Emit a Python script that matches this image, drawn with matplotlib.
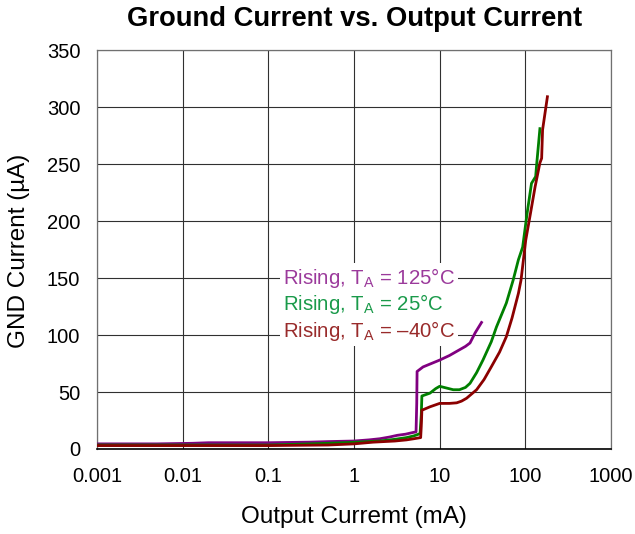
import matplotlib
matplotlib.use("Agg")
import matplotlib.pyplot as plt

plt.rcParams['font.family'] = ['Liberation Sans', 'DejaVu Sans']
plt.rcParams['mathtext.fontset'] = 'custom'
plt.rcParams['mathtext.rm'] = 'Liberation Sans'
plt.rcParams['mathtext.it'] = 'Liberation Sans:italic'
plt.rcParams['mathtext.bf'] = 'Liberation Sans:bold'

# ---- data ----
x_125 = [0.001, 0.005, 0.013, 0.02, 0.1, 0.3, 0.5, 1, 1.5, 2, 2.6, 3.2, 4, 4.9, 5.3, 5.4, 5.45,
         6.4, 8, 10, 13, 17, 20, 22.6, 26, 30.8]
y_125 = [4.5, 4.5, 5, 5.5, 5.5, 6, 6.5, 7, 8, 9, 10.5, 12, 13, 14.5, 15, 40, 68,
         72, 75, 78, 82, 87, 90, 93, 102, 111]

x_25 = [0.001, 0.01, 0.1, 0.18, 0.5, 1.07, 2, 3, 4.1, 5, 5.9, 6.1, 6.2, 7.7, 9, 10, 12, 14.4,
        17, 20, 22.6, 27, 32, 40, 46, 60, 72, 83, 93, 105, 118, 132, 135, 148]
y_25 = [3.5, 3.5, 3.5, 4, 5, 6, 7, 8.5, 10, 11.5, 13.5, 30, 46.5, 49, 53, 55, 53.5, 52,
        52, 54, 57.6, 67, 78, 94, 107, 128, 148, 166, 177, 207, 233, 239, 248, 281]

x_m40 = [0.001, 0.01, 0.1, 0.5, 1, 1.67, 3, 4.1, 5, 6, 6.1, 6.2, 7.7, 10, 13, 15.8, 18, 20.6,
         27, 33, 40, 50, 60, 70, 83, 89, 101, 115, 130, 148, 155, 159, 181]
y_m40 = [3, 3, 3, 3.5, 4.5, 6, 7, 8, 9, 10, 20, 34, 37, 40, 40, 40.5, 42, 44.5,
         52, 61, 72, 85, 98.5, 115, 136.5, 148, 183, 207, 230, 251, 255, 280, 309]

x_ticks = [0.001, 0.01, 0.1, 1, 10, 100, 1000]
x_ticklabels = ['0.001', '0.01', '0.1', '1', '10', '100', '1000']
y_ticks = [0, 50, 100, 150, 200, 250, 300, 350]

labels = ['Rising, T$_{\\mathrm{A}}$ = 125°C',
          'Rising, T$_{\\mathrm{A}}$ = 25°C',
          'Rising, T$_{\\mathrm{A}}$ = –40°C']

# ---- figure ----
fig = plt.figure(figsize=(6.35, 5.34), dpi=100)
ax = fig.add_axes([97/635, 1-449/534, (611-97)/635, (449-50)/534])

ax.plot(x_125, y_125, color='#800080', lw=2.0, zorder=3, solid_joinstyle='round')
ax.plot(x_25, y_25, color='#008000', lw=2.0, zorder=3, solid_joinstyle='round')
ax.plot(x_m40, y_m40, color='#8B0000', lw=2.0, zorder=3, solid_joinstyle='round')

ax.set_xscale('log')
ax.set_xlim(0.001, 1000)
ax.set_ylim(0, 350)
ax.set_xticks(x_ticks)
ax.set_xticklabels(x_ticklabels)
ax.minorticks_off()
ax.set_yticks(y_ticks)
ax.tick_params(axis='both', length=0, labelsize=14.5)
ax.tick_params(axis='x', pad=13)
ax.tick_params(axis='y', pad=12)

ax.grid(True, which='major', color='#303030', lw=0.8, zorder=0)
ax.set_axisbelow(True)
for s in ['top', 'right', 'left']:
    ax.spines[s].set_color('#707070')
    ax.spines[s].set_linewidth(0.9)
ax.spines['bottom'].set_color('black')
ax.spines['bottom'].set_linewidth(1.2)

text_colors = ['#9B3A9B', '#1A9A4A', '#992B2B']
text_y = [0.4123, 0.3496, 0.2807]
for lab, c, ty in zip(labels, text_colors, text_y):
    ax.text(0.362, ty, lab, transform=ax.transAxes, color=c, fontsize=14.7,
            ha='left', va='baseline', zorder=4,
            bbox=dict(facecolor='white', edgecolor='none', pad=2.5))

fig.text(355/635, 1-19/534, 'Ground Current vs. Output Current', ha='center', va='center',
         fontsize=19.7, fontweight='bold')
fig.text(354/635, 1-517/534, 'Output Curremt (mA)', ha='center', va='center', fontsize=17.5)
fig.text(19/635, 1-251/534, 'GND Current (µA)', ha='center', va='center', fontsize=17.5,
         rotation=90)

fig.savefig('out.png', dpi=100)
